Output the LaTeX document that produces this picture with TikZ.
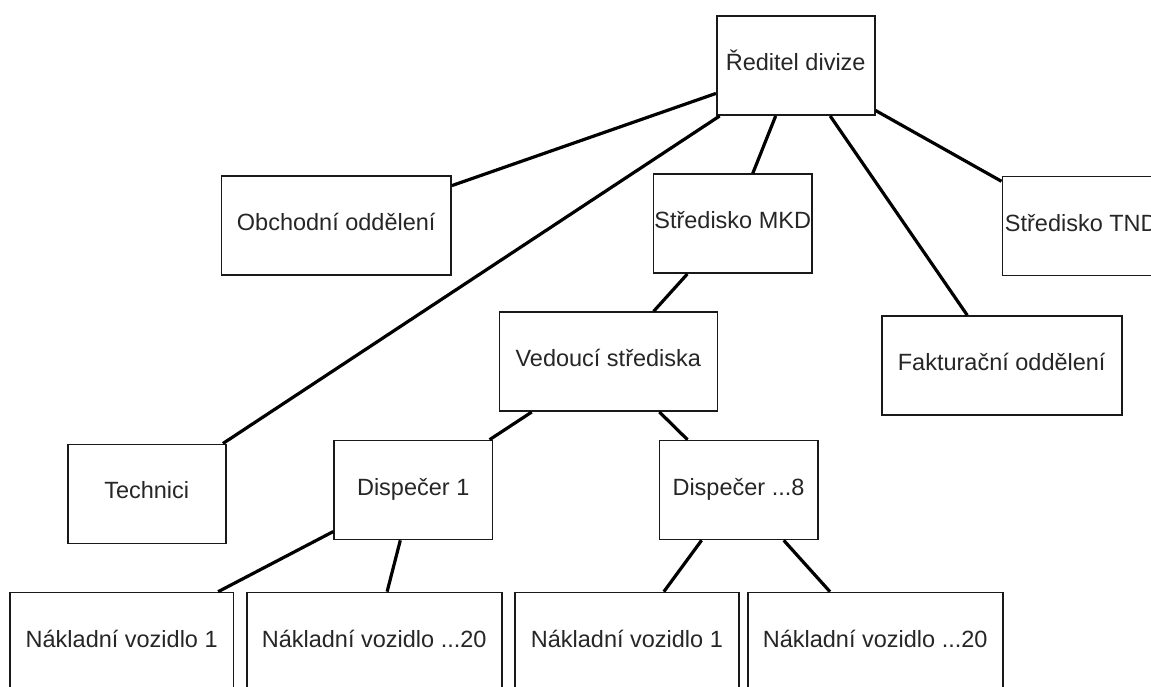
\documentclass[tikz,border=0pt]{standalone}
\usepackage{fontspec}
\setmainfont{Liberation Sans}
\begin{document}
\begin{tikzpicture}[x=1pt,y=-1pt,
  box/.style={draw=black!90, line width=1.6pt, rectangle, inner sep=0pt,
    minimum height=99pt, text height=17pt, text depth=7pt,
    font=\fontsize{23.5}{28}\selectfont, text=black!85},
  link/.style={draw=black, line width=3.2pt}]
\useasboundingbox (0,0) rectangle (1151,686);
\fill[white] (0,0) rectangle (1151,686);
\node[box, minimum width=158pt] (red) at (795.7,65.7) {Ředitel divize};
\node[box, minimum width=229.7pt] (obch) at (336.2,225.7) {Obchodní oddělení};
\node[box, minimum width=158.7pt] (mkd) at (732.7,223.7) {Středisko MKD};
\node[box, minimum width=158pt] (tnd) at (1081.3,226) {Středisko TND};
\node[box, minimum width=240pt] (fakt) at (1001.7,365.5) {Fakturační oddělení};
\node[box, minimum width=218pt] (ved) at (608.3,361.7) {Vedoucí střediska};
\node[box, minimum width=158pt] (tech) at (146.7,493.8) {Technici};
\node[box, minimum width=158.3pt] (d1) at (413.2,490) {Dispečer 1};
\node[box, minimum width=158.4pt] (d8) at (738.5,490) {Dispečer ...8};
\node[box, minimum width=223.3pt] (nv1a) at (121.7,642) {Nákladní vozidlo 1};
\node[box, minimum width=255pt] (nv20a) at (374.2,642) {Nákladní vozidlo ...20};
\node[box, minimum width=223.7pt] (nv1b) at (626.9,642) {Nákladní vozidlo 1};
\node[box, minimum width=255pt] (nv20b) at (875.2,642) {Nákladní vozidlo ...20};
\draw[link] (red) -- (obch);
\draw[link] (red) -- (tech);
\draw[link] (red) -- (mkd);
\draw[link] (red) -- (fakt);
\draw[link] (red) -- (tnd);
\draw[link] (mkd) -- (ved);
\draw[link] (ved) -- (d1);
\draw[link] (ved) -- (d8);
\draw[link] (d1) -- (nv1a);
\draw[link] (d1) -- (nv20a);
\draw[link] (d8) -- (nv1b);
\draw[link] (d8) -- (nv20b);
\end{tikzpicture}
\end{document}
